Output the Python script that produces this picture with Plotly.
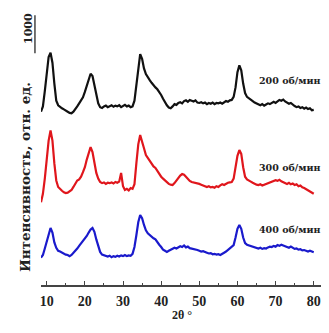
import numpy as np
import plotly.graph_objects as go

# 2θ grid (degrees), 0.5° step
two_theta = np.arange(8.5, 80.25, 0.5)

# Raw intensities (counts)
i_200 = [760, 900, 1300, 1800, 2200, 2310, 2050, 1500, 1050, 930,
         880, 850, 820, 780, 760, 730, 720, 760, 820, 900,
         980, 1060, 1140, 1280, 1450, 1620, 1760, 1700, 1450, 1150,
         980, 880, 860, 900, 920, 880, 910, 930, 890, 920,
         900, 930, 880, 910, 940, 900, 920, 880, 900, 1050,
         1500, 2000, 2275, 2150, 1900, 1750, 1650, 1590, 1520, 1450,
         1400, 1350, 1280, 1200, 1100, 1000, 930, 870, 850, 900,
         960, 940, 990, 1010, 980, 1040, 1060, 1020, 1070, 1050,
         1030, 1060, 1000, 990, 1010, 980, 1000, 960, 990, 970,
         1000, 960, 990, 980, 1000, 970, 1010, 1040, 1020, 1060,
         1070, 1150, 1400, 1800, 1980, 1850, 1500, 1250, 1150, 1120,
         1080, 1040, 1000, 980, 940, 930, 960, 920, 950, 980,
         960, 1000, 1020, 990, 1040, 1070, 1050, 1080, 1030, 1000,
         970, 990, 940, 910, 880, 900, 860, 880, 840, 870,
         830, 850, 800, 810]

i_300 = [480, 700, 1100, 1600, 2100, 2370, 2100, 1500, 1050, 880,
         820, 780, 740, 720, 730, 760, 800, 880, 950, 1050,
         1080, 1150, 1270, 1400, 1600, 1800, 1930, 1800, 1500, 1250,
         1100, 1010, 980, 1000, 960, 990, 980, 1000, 970, 1010,
         990, 1020, 1250, 900, 800, 830, 790, 850, 830, 950,
         1500, 2000, 2245, 2100, 1900, 1720, 1640, 1580, 1500, 1420,
         1380, 1300, 1220, 1150, 1100, 1050, 1000, 960, 940, 930,
         980, 1050, 1120, 1180, 1220, 1200, 1150, 1080, 1040, 1010,
         1000, 980, 990, 960, 940, 920, 900, 880, 900, 870,
         880, 860, 900, 880, 920, 950, 930, 970, 990, 1000,
         1010, 1100, 1350, 1700, 1850, 1750, 1400, 1150, 1080, 1060,
         1020, 990, 960, 940, 930, 950, 920, 940, 960, 980,
         1000, 1020, 1050, 1060, 1040, 1070, 1030, 1000, 980, 960,
         990, 950, 970, 930, 950, 900, 920, 870, 850, 820,
         800, 760, 720, 700]

i_400 = [720, 790, 960, 1150, 1380, 1500, 1380, 1120, 980, 900,
         880, 850, 820, 800, 790, 760, 790, 840, 900, 960,
         1030, 1090, 1140, 1210, 1290, 1380, 1460, 1500, 1400, 1200,
         1000, 870, 800, 780, 760, 750, 770, 730, 760, 740,
         770, 750, 780, 760, 790, 760, 780, 770, 820, 1000,
         1310, 1650, 1840, 1760, 1580, 1440, 1360, 1310, 1260, 1230,
         1200, 1120, 1060, 1000, 930, 900, 870, 900, 930, 950,
         980, 960, 990, 1020, 1000, 1040, 990, 1010, 970, 960,
         940, 950, 920, 900, 880, 890, 860, 850, 830, 840,
         810, 820, 800, 810, 790, 830, 850, 880, 920, 950,
         990, 1050, 1250, 1480, 1580, 1480, 1250, 1100, 1060, 1040,
         1020, 1000, 990, 970, 960, 980, 950, 970, 960, 990,
         1010, 1000, 1030, 1010, 1050, 1030, 1060, 1040, 1020, 1000,
         980, 1010, 970, 950, 960, 930, 940, 910, 920, 890,
         880, 900, 870, 860]

series_names = ["200 об/мин", "300 об/мин", "400 об/мин"]
series_data = [i_200, i_300, i_400]
offsets = [3800, 1700, 0]
colors = ["#111111", "#e0161c", "#1a1acc"]
label_y = [5390, 3080, 1450]
label_x = 82.4

scale_bar = 1000
scale_bar_base = 6100

x_ticks = [10, 20, 30, 40, 50, 60, 70, 80]

fig = go.Figure()
for name, data, off, col in zip(series_names, series_data, offsets, colors):
    y = np.array(data) + off
    fig.add_trace(go.Scatter(x=two_theta, y=y, mode="lines",
                             line=dict(color=col, width=2.2), name=name,
                             showlegend=False))

annotations = []
for name, ly in zip(series_names, label_y):
    annotations.append(dict(x=label_x, y=ly, xref="x", yref="y",
                            text="<b>" + name + "</b>", showarrow=False,
                            font=dict(family="DejaVu Serif", size=9.5, color="#222"),
                            xanchor="right", yanchor="middle"))

annotations.append(dict(x=-0.073, y=scale_bar_base + scale_bar / 2 + 150,
                        xref="paper", yref="y", text="<b>1000</b>",
                        textangle=-90, showarrow=False,
                        font=dict(family="DejaVu Serif", size=11, color="#222")))
annotations.append(dict(x=-0.09, y=0.39, xref="paper", yref="paper",
                        text="<b>Интенсивность, отн. ед.</b>", textangle=-90,
                        showarrow=False,
                        font=dict(family="DejaVu Serif", size=13.5, color="#222")))
annotations.append(dict(x=45.4, y=-0.141, xref="x", yref="paper",
                        text="<b>2θ °</b>", showarrow=False,
                        font=dict(family="Liberation Serif", size=12, color="#222")))

# page has an 8px body margin, so the figure is 321x325 to fill the 329x333 window
fig.update_layout(
    width=321, height=325,
    margin=dict(l=33, r=0, t=0, b=48),
    paper_bgcolor="white", plot_bgcolor="white",
    annotations=annotations,
    shapes=[dict(type="line", xref="paper", yref="y", x0=-0.021, x1=-0.021,
                 y0=scale_bar_base, y1=scale_bar_base + scale_bar,
                 line=dict(color="#444", width=1.5))],
    xaxis=dict(range=[8.5, 84], tickvals=x_ticks, ticks="inside", ticklen=4,
               tickwidth=1, tickcolor="#444", showgrid=False, zeroline=False,
               showline=True, linecolor="#444", linewidth=1.5,
               minor=dict(dtick=5, ticks="inside", ticklen=2, tickcolor="#444"),
               tickfont=dict(family="Liberation Serif", size=14, color="#222",
                             weight="bold"),
               ticklabelstandoff=2),
    yaxis=dict(range=[0, 7289], visible=False),
)

fig.write_html("out.html")
